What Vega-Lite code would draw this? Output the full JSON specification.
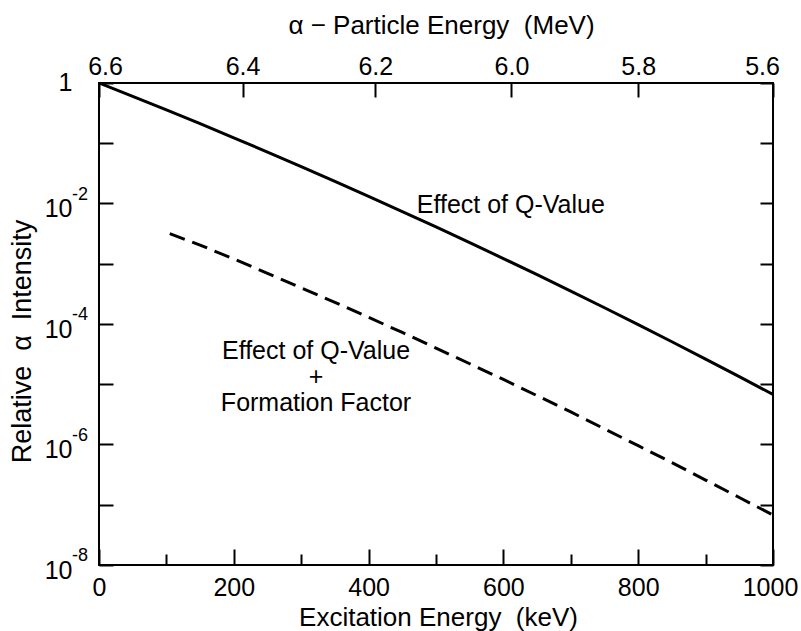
{
  "$schema": "https://vega.github.io/schema/vega-lite/v6.json",
  "width": 674,
  "height": 482,
  "autosize": "none",
  "padding": {"left": 99, "top": 83, "right": 28, "bottom": 66},
  "background": "white",
  "config": {
    "font": "Liberation Sans",
    "view": {"stroke": "black", "strokeWidth": 2},
    "axis": {
      "domain": false,
      "grid": false,
      "tickColor": "black",
      "tickWidth": 2,
      "labelColor": "black",
      "titleColor": "black",
      "labelFont": "Liberation Sans",
      "titleFont": "Liberation Sans",
      "labelFontSize": 25,
      "titleFontSize": 26,
      "titleFontWeight": "normal",
      "labelOverlap": false,
      "labelBound": false,
      "labelFlush": false
    }
  },
  "datasets": {
    "solid": [
      {"E": 0, "I": 1},
      {"E": 50, "I": 0.601},
      {"E": 100, "I": 0.358},
      {"E": 150, "I": 0.211},
      {"E": 200, "I": 0.1233},
      {"E": 250, "I": 0.0714},
      {"E": 300, "I": 0.0411},
      {"E": 350, "I": 0.02339},
      {"E": 400, "I": 0.01318},
      {"E": 450, "I": 0.007362},
      {"E": 500, "I": 0.004083},
      {"E": 550, "I": 0.002244},
      {"E": 600, "I": 0.001219},
      {"E": 650, "I": 0.0006577},
      {"E": 700, "I": 0.0003516},
      {"E": 750, "I": 0.0001862},
      {"E": 800, "I": 0.0000975},
      {"E": 850, "I": 0.0000508},
      {"E": 900, "I": 0.0000261},
      {"E": 950, "I": 0.00001337},
      {"E": 1000, "I": 0.00000676}
    ],
    "dashed": [
      {"E": 105, "I": 0.00316},
      {"E": 150, "I": 0.00204},
      {"E": 200, "I": 0.001202},
      {"E": 250, "I": 0.000692},
      {"E": 300, "I": 0.000398},
      {"E": 350, "I": 0.000229},
      {"E": 400, "I": 0.0001288},
      {"E": 450, "I": 0.0000724},
      {"E": 500, "I": 0.0000398},
      {"E": 550, "I": 0.0000219},
      {"E": 600, "I": 0.00001202},
      {"E": 650, "I": 0.00000646},
      {"E": 700, "I": 0.00000347},
      {"E": 750, "I": 0.00000182},
      {"E": 800, "I": 0.000000955},
      {"E": 850, "I": 0.000000501},
      {"E": 900, "I": 0.000000257},
      {"E": 950, "I": 0.0000001318},
      {"E": 1000, "I": 0.0000000676}
    ],
    "exps": [
      {"E": 0, "I": 0.01, "t": "-2"},
      {"E": 0, "I": 0.0001, "t": "-4"},
      {"E": 0, "I": 0.000001, "t": "-6"},
      {"E": 0, "I": 0.00000001, "t": "-8"}
    ],
    "notes": [
      {"E": 611, "I": 0.00695, "t": "Effect of Q-Value"},
      {"E": 322, "I": 0.00002624, "t": "Effect of Q-Value"},
      {"E": 322, "I": 0.00000972, "t": "+"},
      {"E": 322, "I": 0.0000036, "t": "Formation Factor"}
    ]
  },
  "resolve": {"axis": {"x": "independent", "y": "independent"}},
  "layer": [
    {
      "data": {"name": "solid"},
      "mark": {"type": "line", "stroke": "black", "strokeWidth": 3, "clip": true},
      "encoding": {
        "x": {
          "field": "E", "type": "quantitative",
          "scale": {"domain": [0, 1000], "nice": false, "zero": false},
          "axis": {
            "orient": "bottom",
            "values": [0, 200, 400, 600, 800, 1000],
            "format": "d",
            "tickSize": -16,
            "labelPadding": 46,
            "labelBaseline": "alphabetic",
            "labelOffset": {"condition": {"test": "datum.value == 1000", "value": -3}, "value": 0},
            "title": "Excitation Energy\u00a0\u00a0(keV)",
            "titleBaseline": "alphabetic",
            "titleAnchor": "start",
            "titleAlign": "center",
            "titleX": 339,
            "titleY": 60
          }
        },
        "y": {
          "field": "I", "type": "quantitative",
          "scale": {"type": "log", "domain": [0.00000001, 1], "nice": false},
          "axis": {
            "orient": "left",
            "values": [1, 0.1, 0.01, 0.001, 0.0001, 0.00001, 0.000001, 0.0000001, 0.00000001],
            "tickSize": -14,
            "labelPadding": 41,
            "labelBaseline": "alphabetic",
            "labelOffset": {"condition": {"test": "datum.value > 0.5", "value": 7}, "value": 13},
            "labelExpr": "datum.value > 0.5 ? '1' : (abs(round(log(datum.value) / LN10)) % 2 == 0 ? '10' : '')",
            "title": "Relative\u00a0\u00a0\u03b1\u00a0\u00a0Intensity",
            "titleFontSize": 27,
            "titleAngle": -90,
            "titleBaseline": "middle",
            "titleAnchor": "start",
            "titleAlign": "center",
            "titleX": -77,
            "titleY": 258
          }
        }
      }
    },
    {
      "data": {"name": "dashed"},
      "mark": {"type": "line", "stroke": "black", "strokeWidth": 3, "strokeDash": [16, 8], "clip": true},
      "encoding": {
        "x": {
          "field": "E", "type": "quantitative",
          "scale": {"domain": [0, 1000], "nice": false, "zero": false},
          "axis": {
            "orient": "top",
            "values": [0, 213, 410, 612, 800, 1000],
            "tickSize": -14,
            "labelPadding": 23,
            "labelBaseline": "alphabetic",
            "labelOffset": {"condition": [{"test": "datum.value == 0", "value": 6}, {"test": "datum.value == 1000", "value": -11}], "value": 0},
            "labelExpr": "datum.value == 0 ? '6.6' : datum.value == 213 ? '6.4' : datum.value == 410 ? '6.2' : datum.value == 612 ? '6.0' : datum.value == 800 ? '5.8' : '5.6'",
            "title": "\u03b1 \u2212 Particle Energy\u00a0\u00a0(MeV)",
            "titleBaseline": "alphabetic",
            "titleAnchor": "start",
            "titleAlign": "center",
            "titleX": 342,
            "titleY": -50
          }
        },
        "y": {
          "field": "I", "type": "quantitative",
          "scale": {"type": "log", "domain": [0.00000001, 1], "nice": false},
          "axis": {
            "orient": "right",
            "values": [1, 0.1, 0.01, 0.001, 0.0001, 0.00001, 0.000001, 0.0000001, 0.00000001],
            "tickSize": -13,
            "labels": false,
            "title": null
          }
        }
      }
    },
    {
      "data": {"name": "exps"},
      "mark": {"type": "text", "align": "left", "baseline": "alphabetic", "dx": -27, "dy": -4, "fontSize": 18, "color": "black"},
      "encoding": {
        "x": {
          "field": "E", "type": "quantitative",
          "scale": {"domain": [0, 1000], "nice": false, "zero": false},
          "axis": {
            "orient": "bottom",
            "values": [100, 300, 500, 700, 900],
            "tickSize": -11,
            "labels": false,
            "title": null
          }
        },
        "y": {
          "field": "I", "type": "quantitative",
          "scale": {"type": "log", "domain": [0.00000001, 1], "nice": false},
          "axis": null
        },
        "text": {"field": "t", "type": "nominal"}
      }
    },
    {
      "data": {"name": "notes"},
      "mark": {"type": "text", "align": "center", "baseline": "alphabetic", "fontSize": 25, "color": "black"},
      "encoding": {
        "x": {
          "field": "E", "type": "quantitative",
          "scale": {"domain": [0, 1000], "nice": false, "zero": false},
          "axis": null
        },
        "y": {
          "field": "I", "type": "quantitative",
          "scale": {"type": "log", "domain": [0.00000001, 1], "nice": false},
          "axis": null
        },
        "text": {"field": "t", "type": "nominal"}
      }
    }
  ]
}
